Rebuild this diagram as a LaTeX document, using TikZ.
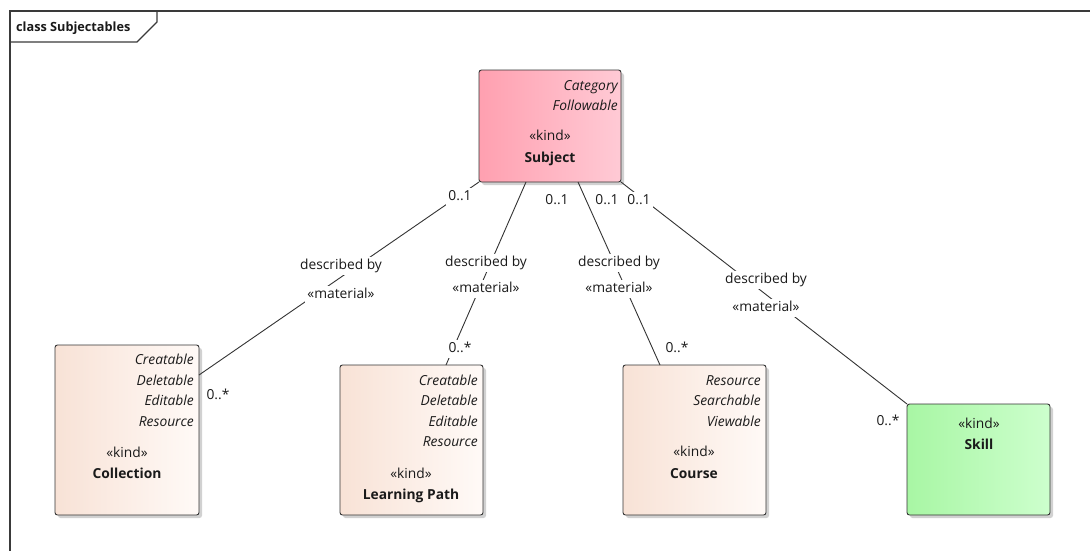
\documentclass[tikz,border=0pt]{standalone}
\usepackage{fontspec}
\setmainfont{Open Sans}
\usetikzlibrary{shadows}
\definecolor{ink}{HTML}{1A1A1A}
\definecolor{frameline}{HTML}{3A3A3A}
\definecolor{subjL}{HTML}{FFA0B0}
\definecolor{subjR}{HTML}{FFCAD5}
\definecolor{kindL}{HTML}{F8E2D6}
\definecolor{kindR}{HTML}{FFFAF7}
\definecolor{skillL}{HTML}{A8F6A4}
\definecolor{skillR}{HTML}{CDFFCD}
\newcommand\txtsize{\fontsize{13.8}{16}\selectfont}
\tikzset{
  umlbox/.style={draw=black!80, line width=0.9pt, rounded corners=2.5pt,
    anchor=north west, inner sep=0pt, outer sep=0pt,
    drop shadow={shadow xshift=3pt, shadow yshift=-3pt, fill=black, opacity=0.18}},
  tag/.style={inner sep=1pt, text height=10pt, text depth=3.2pt, yshift=-1pt},
  attr/.style={tag, font=\txtsize\itshape, anchor=east},
  stereo/.style={tag, anchor=center},
  cname/.style={tag, font=\txtsize\bfseries, anchor=center},
  lbl/.style={tag, fill=white, inner sep=2pt, anchor=center},
  assoc/.style={draw=black!80, line width=0.9pt},
}
\begin{document}
\begin{tikzpicture}[x=1pt, y=-1pt, font=\txtsize, text=ink]
\useasboundingbox (0,0) rectangle (1090,550);

% diagram frame and its name tab
\draw[frameline, line width=1.1pt] (10,560) -- (10,11) -- (1100,11);
\draw[frameline, line width=1.1pt] (10,42) -- (137,42) -- (157,22) -- (157,11);
\node[tag, font=\fontsize{12.7}{15}\selectfont\bfseries, anchor=west] (title) at (15,27) {class Subjectables};

% classes
\node[umlbox, left color=subjL, right color=subjR, minimum width=142pt, minimum height=112pt] (subj) at (479,70) {};
\node[umlbox, left color=kindL, right color=kindR, minimum width=144pt, minimum height=170pt] (coll) at (55,345) {};
\node[umlbox, left color=kindL, right color=kindR, minimum width=143pt, minimum height=150pt] (lp) at (340,365) {};
\node[umlbox, left color=kindL, right color=kindR, minimum width=143pt, minimum height=150pt] (course) at (623,365) {};
\node[umlbox, left color=skillL, right color=skillR, minimum width=143pt, minimum height=111pt] (skill) at (907,404) {};

% Subject
\node[attr] (s1) at (619,86) {Category};
\node[attr] (s2) at (619,106) {Followable};
\node[stereo] (s3) at (550,136) {«kind»};
\node[cname] (s4) at (550,158) {Subject};

% Collection
\node[attr] (c1) at (195,360) {Creatable};
\node[attr] (c2) at (195,381) {Deletable};
\node[attr] (c3) at (195,401) {Editable};
\node[attr] (c4) at (195,422) {Resource};
\node[stereo] (c5) at (127,453) {«kind»};
\node[cname] (c6) at (127,474) {Collection};

% Learning Path
\node[attr] (l1) at (479,381) {Creatable};
\node[attr] (l2) at (479,401) {Deletable};
\node[attr] (l3) at (479,422) {Editable};
\node[attr] (l4) at (479,442) {Resource};
\node[stereo] (l5) at (411,474) {«kind»};
\node[cname] (l6) at (411,495) {Learning Path};

% Course
\node[attr] (k1) at (762,381) {Resource};
\node[attr] (k2) at (762,401) {Searchable};
\node[attr] (k3) at (762,422) {Viewable};
\node[stereo] (k4) at (694,452) {«kind»};
\node[cname] (k5) at (694,474) {Course};

% Skill
\node[stereo] (q1) at (979,424) {«kind»};
\node[cname] (q2) at (979,445) {Skill};

% associations
\draw[assoc] (subj.south west) -- ([yshift=-30pt]coll.north east);
\draw[assoc] ([xshift=47pt]subj.south west) -- ([xshift=106pt]lp.north west);
\draw[assoc] ([xshift=99pt]subj.south west) -- ([xshift=37pt]course.north west);
\draw[assoc] (subj.south east) -- (skill.north west);

% association labels
\node[lbl] (a1) at (341,265) {described by};
\node[lbl] (a2) at (341,294) {«material»};
\node[lbl] (b1) at (486,262) {described by};
\node[lbl] (b2) at (486,288) {«material»};
\node[lbl] (d1) at (619,262) {described by};
\node[lbl] (d2) at (619,288) {«material»};
\node[lbl] (e1) at (766,279) {described by};
\node[lbl] (e2) at (766,307) {«material»};

% multiplicities
\node[lbl] (m1) at (460,196) {0..1};
\node[lbl] (m2) at (218,395) {0..*};
\node[lbl] (m3) at (557,200) {0..1};
\node[lbl] (m4) at (460,348) {0..*};
\node[lbl] (m5) at (607,200) {0..1};
\node[lbl] (m6) at (677,348) {0..*};
\node[lbl] (m7) at (639,200) {0..1};
\node[lbl] (m8) at (888,421) {0..*};
\end{tikzpicture}
\end{document}
